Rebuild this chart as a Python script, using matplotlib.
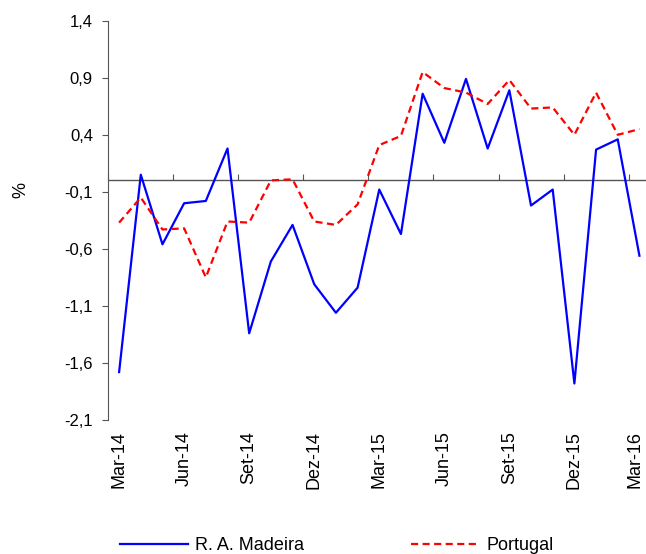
import matplotlib
matplotlib.use('Agg')
import matplotlib.pyplot as plt
import matplotlib.transforms as mtransforms
from matplotlib.ticker import FuncFormatter
import numpy as np

plt.rcParams['font.family'] = ['Liberation Sans', 'DejaVu Sans']

# monthly values, Mar-14 .. Mar-16
months = ["Mar-14", "Abr-14", "Mai-14", "Jun-14", "Jul-14", "Ago-14", "Set-14", "Out-14", "Nov-14",
          "Dez-14", "Jan-15", "Fev-15", "Mar-15", "Abr-15", "Mai-15", "Jun-15", "Jul-15", "Ago-15",
          "Set-15", "Out-15", "Nov-15", "Dez-15", "Jan-16", "Fev-16", "Mar-16"]
madeira = [-1.68, 0.05, -0.56, -0.20, -0.18, 0.28, -1.34, -0.71, -0.39, -0.91, -1.16, -0.94,
           -0.08, -0.47, 0.76, 0.33, 0.89, 0.28, 0.79, -0.22, -0.08, -1.78, 0.27, 0.36, -0.66]
portugal = [-0.37, -0.15, -0.43, -0.42, -0.85, -0.36, -0.37, 0.00, 0.01, -0.36, -0.39, -0.21,
            0.31, 0.39, 0.95, 0.81, 0.77, 0.67, 0.88, 0.63, 0.64, 0.40, 0.77, 0.40, 0.45]
yticks = [-2.1, -1.6, -1.1, -0.6, -0.1, 0.4, 0.9, 1.4]

x = np.arange(len(months))

fig = plt.figure(figsize=(6.46, 5.54), dpi=100)
ax = fig.add_axes([0.1676, 0.2419, 0.839, 0.7207])

ax.plot(x, madeira, color='#0000ff', lw=1.6, label='R. A. Madeira')
ax.plot(x, portugal, color='#ff0000', lw=1.6, linestyle=(0, (3.2, 2.0)), label='Portugal')

ax.set_xlim(-0.5, len(months) - 0.5)
ax.set_ylim(yticks[0], yticks[-1])
ax.set_yticks(yticks)
ax.yaxis.set_major_formatter(FuncFormatter(lambda v, p: ('%.1f' % v).replace('.', ',')))
ax.tick_params(axis='y', direction='out', length=4, width=0.8, color='#555555',
               labelsize=12, pad=7)

# category labels every 3 months at bottom, no tick marks
ax.set_xticks(x[::3])
ax.set_xticklabels(months[::3], rotation=90, fontsize=13)
ax.tick_params(axis='x', length=0, pad=8)
# keep the last label inside the figure
last = ax.get_xticklabels()[-1]
last.set_transform(last.get_transform() + mtransforms.ScaledTranslation(-4 / 100, 0, fig.dpi_scale_trans))

for s in ['top', 'right', 'bottom']:
    ax.spines[s].set_visible(False)
ax.spines['left'].set_color('#555555')
ax.spines['left'].set_linewidth(0.8)

# zero line with tick marks between categories
ax.axhline(0, color='#555555', lw=0.9, zorder=1)
frac0 = (0 - yticks[0]) / (yticks[-1] - yticks[0])
sec = ax.secondary_xaxis(frac0)
sec.set_xticks(np.arange(-0.5, len(months), 3))
sec.tick_params(axis='x', direction='out', length=4, width=0.8, color='#555555', labelbottom=False)
sec.set_xticklabels([])
sec.spines['bottom'].set_visible(False)

ax.set_ylabel('%', fontsize=13)
ax.yaxis.set_label_coords(-0.145, 0.575)

fig.legend(loc='lower left', bbox_to_anchor=(0.16, -0.03), ncol=2, frameon=False,
           fontsize=13, handlelength=3.8, columnspacing=5.9, handletextpad=0.4)

fig.savefig('out.png', dpi=100)
